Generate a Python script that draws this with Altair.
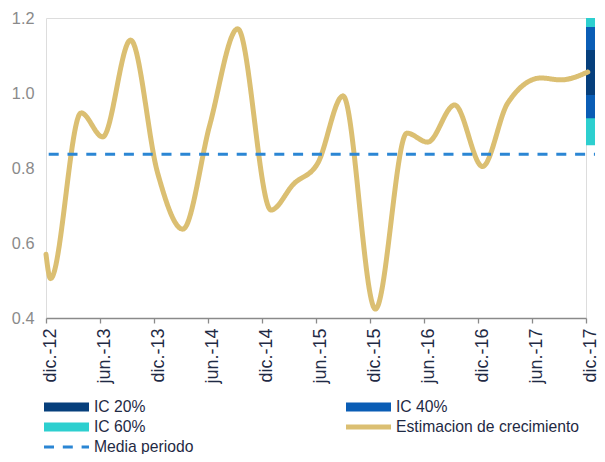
import altair as alt
import pandas as pd

# --- data ---
tick_labels = ["dic.-12", "jun.-13", "dic.-13", "jun.-14", "dic.-14", "jun.-15",
               "dic.-15", "jun.-16", "dic.-16", "jun.-17", "dic.-17"]
tick_months = [0, 6, 12, 18, 24, 30, 36, 42, 48, 54, 60]

# growth estimate (months after dic.-12, value)
est_months = [0, 0.5, 3.9, 6.3, 9.4, 12.4, 15.2, 18.2, 21.3, 25.0, 27.5, 30.2,
              33.0, 36.6, 40.1, 42.4, 45.4, 48.5, 51.3, 55.0, 57.2, 60.2]
est_values = [0.57, 0.505, 0.947, 0.883, 1.141, 0.787, 0.637, 0.915, 1.171, 0.688,
              0.757, 0.813, 0.992, 0.424, 0.893, 0.869, 0.968, 0.804, 0.973, 1.040,
              1.035, 1.056]

# fan (confidence intervals) at the end of the period
ic_levels = ["IC 60%", "IC 40%", "IC 20%"]
ic_low = [0.861, 0.933, 0.995]
ic_high = [1.2, 1.176, 1.115]
fan_month = 60.5

media = 0.837
media_start, media_end = 0.3, 61

# legend order (filled column by column: 3 rows x 2 columns)
series = ["IC 20%", "IC 60%", "Media periodo", "IC 40%", "Estimacion de crecimiento"]
series_colors = ["#063f7c", "#2dcfcf", "#2b86d4", "#0a5db5", "#dbbf72"]
series_widths = [9, 9, 3, 9, 5]
series_dash = [[1, 0], [1, 0], [10, 8.8], [1, 0], [1, 0]]

NAVY = "#1f2a44"
GRAY = "#8a8a8a"
FONT = "Liberation Sans"

line_df = pd.DataFrame({"m": est_months, "v": est_values,
                        "serie": "Estimacion de crecimiento"})
fan_df = pd.DataFrame({"serie": ic_levels, "lo": ic_low, "hi": ic_high,
                       "m": fan_month})
mean_df = pd.DataFrame({"serie": ["Media periodo"], "v": [media],
                        "m0": [media_start], "m1": [media_end]})

label_js = "[" + ",".join("'%s'" % t for t in tick_labels) + "]"

legend = alt.Legend(
    title=None, orient="none", legendX=-6.5, legendY=379, columns=2,
    symbolType="stroke", symbolSize=2025, clipHeight=20,
    labelFontSize=15.7, labelColor=NAVY, labelFont=FONT, labelOffset=0.5,
    columnPadding=148, rowPadding=-1, padding=0, labelLimit=400,
)

color = alt.Color("serie:N", scale=alt.Scale(domain=series, range=series_colors),
                  legend=legend)
swidth = alt.StrokeWidth("serie:N",
                         scale=alt.Scale(type="ordinal", domain=series, range=series_widths),
                         legend=legend)
sdash = alt.StrokeDash("serie:N", scale=alt.Scale(domain=series, range=series_dash),
                       legend=legend)

x_axis = alt.Axis(values=tick_months, labelExpr=label_js + "[round(datum.value/6)]",
                  labelAngle=270, labelAlign="right", labelBaseline="top",
                  labelFontSize=18, labelColor=NAVY, labelFont=FONT,
                  labelPadding=5, labelOffset=-5, tickSize=5, tickColor=GRAY,
                  domainColor=GRAY, domainWidth=1.3, tickWidth=1.3,
                  grid=False, title=None, labelFlush=False, labelOverlap=False,
                  labelBound=False)
y_axis = alt.Axis(values=[0.4, 0.6, 0.8, 1.0, 1.2], format=".1f",
                  labelFontSize=16.3, labelColor=GRAY, labelFont=FONT,
                  domain=False, ticks=False, grid=False, labelPadding=12,
                  title=None)

xs = alt.Scale(domain=[0, 60], nice=False, zero=False)
ys = alt.Scale(domain=[0.4, 1.2], nice=False, zero=False)

fan = alt.Chart(fan_df).mark_rule(strokeCap="butt").encode(
    x=alt.X("m:Q", scale=xs, axis=x_axis),
    y=alt.Y("lo:Q", scale=ys, axis=y_axis),
    y2="hi:Q",
    color=color, strokeWidth=swidth, strokeDash=sdash,
)

line = alt.Chart(line_df).mark_line(interpolate="monotone", strokeCap="round").encode(
    x=alt.X("m:Q", scale=xs),
    y=alt.Y("v:Q", scale=ys),
    color=color, strokeWidth=swidth, strokeDash=sdash,
    order="m:Q",
)

mean_rule = alt.Chart(mean_df).mark_rule().encode(
    x=alt.X("m0:Q", scale=xs),
    x2="m1:Q",
    y=alt.Y("v:Q", scale=ys),
    color=color, strokeWidth=swidth, strokeDash=sdash,
)

chart = alt.layer(fan, line, mean_rule).properties(
    width=540, height=300,
    autosize=alt.AutoSizeParams(type="none"),
    padding={"left": 38, "top": 10, "right": 11, "bottom": 136},
    background="white",
).configure_view(stroke=None).configure(font=FONT)

chart.save("out.html", embed_options={"renderer": "svg", "actions": False})
